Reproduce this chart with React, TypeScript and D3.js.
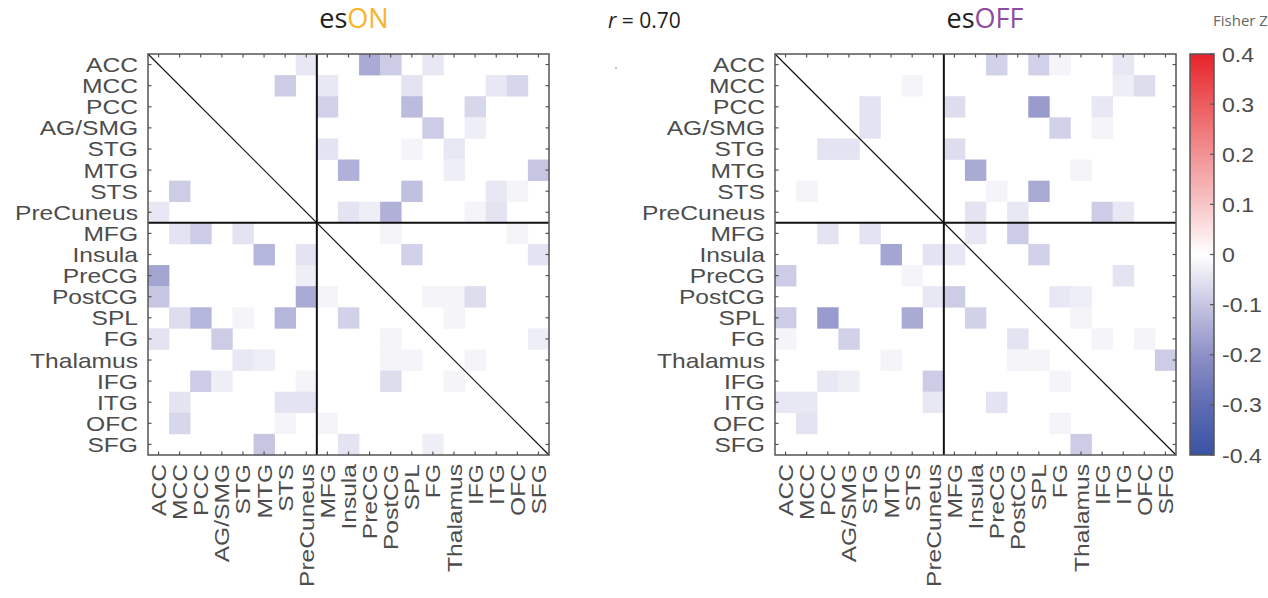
import React, { useEffect, useRef } from 'react';
import * as d3 from 'd3';

// region labels (rows and columns share the same order)
const regions = [
  'ACC', 'MCC', 'PCC', 'AG/SMG', 'STG', 'MTG', 'STS', 'PreCuneus',
  'MFG', 'Insula', 'PreCG', 'PostCG', 'SPL', 'FG', 'Thalamus', 'IFG', 'ITG', 'OFC', 'SFG'
];

// non-zero cells: [row, col, Fisher Z]
const esOnCells: [number, number, number][] = [
  [0, 7, -0.04], [0, 10, -0.15], [0, 11, -0.09], [0, 13, -0.04],
  [1, 6, -0.09], [1, 8, -0.04], [1, 12, -0.05], [1, 16, -0.04], [1, 17, -0.07],
  [2, 8, -0.08], [2, 12, -0.12], [2, 15, -0.07],
  [3, 13, -0.09], [3, 15, -0.03],
  [4, 8, -0.05], [4, 12, -0.02], [4, 14, -0.04],
  [5, 9, -0.14], [5, 14, -0.03], [5, 18, -0.10],
  [6, 1, -0.09], [6, 12, -0.11], [6, 16, -0.04], [6, 17, -0.02],
  [7, 0, -0.04], [7, 9, -0.05], [7, 10, -0.03], [7, 11, -0.14], [7, 15, -0.02], [7, 16, -0.05],
  [8, 1, -0.05], [8, 2, -0.09], [8, 4, -0.05], [8, 11, -0.02], [8, 17, -0.02],
  [9, 5, -0.13], [9, 7, -0.05], [9, 12, -0.08], [9, 18, -0.05],
  [10, 0, -0.16], [10, 7, -0.03],
  [11, 0, -0.10], [11, 7, -0.15], [11, 8, -0.02], [11, 13, -0.02], [11, 14, -0.02], [11, 15, -0.06],
  [12, 1, -0.06], [12, 2, -0.13], [12, 4, -0.02], [12, 6, -0.13], [12, 9, -0.08], [12, 14, -0.02],
  [13, 0, -0.05], [13, 3, -0.09], [13, 11, -0.02], [13, 18, -0.03],
  [14, 4, -0.04], [14, 5, -0.03], [14, 11, -0.02], [14, 12, -0.02], [14, 15, -0.02],
  [15, 2, -0.09], [15, 3, -0.03], [15, 7, -0.02], [15, 11, -0.06], [15, 14, -0.02],
  [16, 1, -0.05], [16, 6, -0.05], [16, 7, -0.05],
  [17, 1, -0.07], [17, 6, -0.02], [17, 8, -0.02],
  [18, 5, -0.10], [18, 9, -0.05], [18, 13, -0.03]
];

const esOffCells: [number, number, number][] = [
  [0, 10, -0.08], [0, 12, -0.08], [0, 13, -0.02], [0, 16, -0.04],
  [1, 6, -0.02], [1, 16, -0.03], [1, 17, -0.06],
  [2, 4, -0.05], [2, 8, -0.06], [2, 12, -0.18], [2, 15, -0.04],
  [3, 4, -0.05], [3, 13, -0.08], [3, 15, -0.02],
  [4, 2, -0.05], [4, 3, -0.05], [4, 8, -0.06],
  [5, 9, -0.15], [5, 14, -0.02],
  [6, 1, -0.02], [6, 10, -0.02], [6, 12, -0.15],
  [7, 9, -0.05], [7, 11, -0.04], [7, 15, -0.09], [7, 16, -0.04],
  [8, 2, -0.05], [8, 4, -0.05], [8, 9, -0.04], [8, 11, -0.09],
  [9, 5, -0.16], [9, 7, -0.05], [9, 8, -0.04], [9, 12, -0.08],
  [10, 0, -0.09], [10, 6, -0.02], [10, 16, -0.05],
  [11, 7, -0.04], [11, 8, -0.09], [11, 13, -0.04], [11, 14, -0.03],
  [12, 0, -0.09], [12, 2, -0.18], [12, 6, -0.15], [12, 9, -0.08], [12, 14, -0.02],
  [13, 0, -0.02], [13, 3, -0.08], [13, 11, -0.05], [13, 15, -0.02], [13, 17, -0.02],
  [14, 5, -0.02], [14, 11, -0.02], [14, 12, -0.02], [14, 18, -0.09],
  [15, 2, -0.04], [15, 3, -0.03], [15, 7, -0.09], [15, 13, -0.02],
  [16, 0, -0.04], [16, 1, -0.04], [16, 7, -0.04], [16, 10, -0.05],
  [17, 1, -0.05], [17, 13, -0.02],
  [18, 14, -0.09]
];

const colorTicks = [-0.4, -0.3, -0.2, -0.1, 0, 0.1, 0.2, 0.3, 0.4];
const colorStops = ['#3953a4', '#5e6cb3', '#8e90c7', '#c6c6e3', '#ffffff', '#f8c6c7', '#f29294', '#ec5c5f', '#e8232a'];
const corrText = '0.70';

const LABEL_FONT = '"Liberation Sans", Arial, sans-serif';
const TITLE_FONT = '"Open Sans", "Noto Sans", sans-serif';

const App = () => {
  const ref = useRef<SVGSVGElement>(null);

  useEffect(() => {
    const svg = d3.select(ref.current);
    svg.selectAll('*').remove();

    const size = 401;
    const top = 54;
    const split = 8; // cortical vs. other regions

    const color = d3.scaleLinear<string>().domain(colorTicks).range(colorStops);

    const drawMatrix = (x0: number, cells: [number, number, number][]) => {
      const g = svg.append('g').attr('transform', `translate(${x0},${top})`);
      const band = d3.scaleBand<number>().domain(d3.range(regions.length)).range([0, size]);
      const bw = band.bandwidth();

      g.append('rect').attr('width', size).attr('height', size).attr('fill', '#fff');

      g.selectAll('rect.cell')
        .data(cells)
        .enter()
        .append('rect')
        .attr('class', 'cell')
        .attr('x', d => band(d[1])!)
        .attr('y', d => band(d[0])!)
        .attr('width', bw + 0.3)
        .attr('height', bw + 0.3)
        .attr('fill', d => color(d[2]));

      // inward ticks on all four sides
      const tl = 3.5;
      regions.forEach((_, i) => {
        const c = band(i)! + bw / 2;
        [[0, c, tl, c], [size, c, size - tl, c], [c, 0, c, tl], [c, size, c, size - tl]].forEach(p => {
          g.append('line')
            .attr('x1', p[0]).attr('y1', p[1]).attr('x2', p[2]).attr('y2', p[3])
            .attr('stroke', '#555').attr('stroke-width', 1.2);
        });
      });

      // split lines and diagonal
      const s = band(split)!;
      g.append('line').attr('x1', s).attr('x2', s).attr('y1', 0).attr('y2', size)
        .attr('stroke', '#111').attr('stroke-width', 2);
      g.append('line').attr('x1', 0).attr('x2', size).attr('y1', s).attr('y2', s)
        .attr('stroke', '#111').attr('stroke-width', 2);
      g.append('line').attr('x1', 0).attr('y1', 0).attr('x2', size).attr('y2', size)
        .attr('stroke', '#111').attr('stroke-width', 1.2);

      g.append('rect').attr('width', size).attr('height', size)
        .attr('fill', 'none').attr('stroke', '#555').attr('stroke-width', 1.5);

      // row labels
      g.selectAll('text.row')
        .data(regions)
        .enter()
        .append('text')
        .attr('class', 'row')
        .attr('transform', (d, i) => `translate(-10,${band(i)! + bw / 2 + 7.5}) scale(1.2,1)`)
        .attr('text-anchor', 'end')
        .style('font-family', LABEL_FONT)
        .style('font-size', '20.5px')
        .attr('fill', '#4d4d4d')
        .text(d => d);

      // column labels
      g.selectAll('text.col')
        .data(regions)
        .enter()
        .append('text')
        .attr('class', 'col')
        .attr('transform', (d, i) => `translate(${band(i)! + bw / 2 + 7.5},${size + 9}) rotate(-90) scale(1.2,1)`)
        .attr('text-anchor', 'end')
        .style('font-family', LABEL_FONT)
        .style('font-size', '20.5px')
        .attr('fill', '#4d4d4d')
        .text(d => d);
    };

    drawMatrix(148, esOnCells);
    drawMatrix(775, esOffCells);

    // titles
    const t1 = svg.append('text').attr('x', 354).attr('y', 28).attr('text-anchor', 'middle')
      .style('font-family', TITLE_FONT).style('font-size', '27px');
    t1.append('tspan').attr('fill', '#231f20').text('es');
    t1.append('tspan').attr('fill', '#f9b42b').text('ON');

    const t2 = svg.append('text').attr('x', 985).attr('y', 28).attr('text-anchor', 'middle')
      .style('font-family', TITLE_FONT).style('font-size', '27px');
    t2.append('tspan').attr('fill', '#231f20').text('es');
    t2.append('tspan').attr('fill', '#8c4b9f').text('OFF');

    const r = svg.append('text').attr('x', 608).attr('y', 28)
      .style('font-family', TITLE_FONT).style('font-size', '21px').attr('fill', '#231f20');
    r.append('tspan').style('font-style', 'italic').text('r');
    r.append('tspan').text(` = ${corrText}`);

    // stray mark under the r label in the original figure
    svg.append('circle').attr('cx', 616).attr('cy', 68).attr('r', 0.8).attr('fill', '#777');

    // colorbar
    const cbX = 1190, cbW = 24;
    const cy = d3.scaleLinear().domain([-0.4, 0.4]).range([top + size, top]);
    const grad = svg.append('defs').append('linearGradient')
      .attr('id', 'fz').attr('x1', 0).attr('y1', 1).attr('x2', 0).attr('y2', 0);
    colorTicks.forEach((v, i) => {
      grad.append('stop').attr('offset', `${(i / (colorTicks.length - 1)) * 100}%`).attr('stop-color', colorStops[i]);
    });
    svg.append('rect').attr('x', cbX).attr('y', top).attr('width', cbW).attr('height', size)
      .attr('fill', 'url(#fz)').attr('stroke', '#555').attr('stroke-width', 1.5);

    const cb = svg.append('g');
    colorTicks.forEach(v => {
      cb.append('line').attr('x1', cbX + cbW).attr('x2', cbX + cbW - 4).attr('y1', cy(v)).attr('y2', cy(v))
        .attr('stroke', '#555').attr('stroke-width', 1.2);
      cb.append('text').attr('transform', `translate(${cbX + 32},${cy(v) + 7.5}) scale(1.1,1)`)
        .style('font-family', LABEL_FONT).style('font-size', '21px').attr('fill', '#4d4d4d')
        .text(v === 0 ? '0' : v.toFixed(1));
    });

    svg.append('text').attr('x', 1213).attr('y', 26)
      .style('font-family', TITLE_FONT).style('font-size', '15px').attr('fill', '#666')
      .text('Fisher Z');
  }, []);

  return (
    <svg ref={ref} width={1268} height={598}
      style={{ position: 'absolute', left: 0, top: 0, background: '#fff' }} />
  );
};

export default App;
